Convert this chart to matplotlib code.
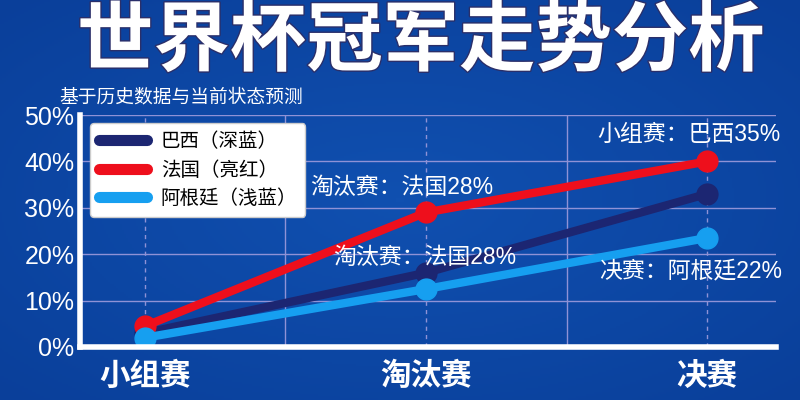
import matplotlib
matplotlib.use("Agg")
import matplotlib.pyplot as plt
import matplotlib.patheffects as pe
import numpy as np

plt.rcParams['font.family'] = ['Noto Sans CJK SC', 'DejaVu Sans']

# ---- data ----
stages = ["小组赛", "淘汰赛", "决赛"]
brazil = [3, 16, 33]
france = [4.5, 29, 40]
argentina = [2, 12.5, 23.5]
series_names = ["巴西（深蓝）", "法国（亮红）", "阿根廷（浅蓝）"]
yticks = [0, 10, 20, 30, 40, 50]
ytick_labels = ["0%", "10%", "20%", "30%", "40%", "50%"]
title = "世界杯冠军走势分析"
subtitle = "基于历史数据与当前状态预测"
notes = ["小组赛：巴西35%", "淘汰赛：法国28%", "淘汰赛：法国28%", "决赛：阿根廷22%"]

BG = "#0d47a5"
C_BR = "#1c2672"
C_FR = "#ee0f1c"
C_AR = "#169ff0"
GRID = "#8f92d6"

fig = plt.figure(figsize=(8, 4), dpi=100, facecolor=BG)

# background gradient
bg = fig.add_axes([0, 0, 1, 1], zorder=-10)
yy, xx = np.mgrid[0:1:200j, 0:1:400j]
r = np.sqrt((xx - 0.5) ** 2 + (yy - 0.5) ** 2)
bg.imshow(r, cmap=matplotlib.colors.LinearSegmentedColormap.from_list(
    "bgc", ["#1050b0", "#0a3f9a"]), aspect="auto", extent=[0, 1, 0, 1])
bg.axis("off")

ax = fig.add_axes([0.1, 0.1325, 0.87, 0.58])
ax.set_facecolor("none")
x = np.arange(len(stages))

lw = 6
ms = 15
ax.plot(x, brazil, color=C_BR, lw=lw, marker="o", ms=ms, solid_capstyle="round", zorder=3, label=series_names[0])
ax.plot(x, france, color=C_FR, lw=lw, marker="o", ms=ms, solid_capstyle="round", zorder=4, label=series_names[1])
ax.plot(x, argentina, color=C_AR, lw=lw, marker="o", ms=ms, solid_capstyle="round", zorder=5, label=series_names[2])

ax.set_xlim(-0.231, 2.245)
ax.set_ylim(0, 50)
ax.set_yticks(yticks)
ax.set_yticklabels(ytick_labels, fontsize=18, color="white", family=["Liberation Sans", "DejaVu Sans"])
ax.set_xticks(x)
ax.set_xticklabels(stages, fontsize=22, fontweight="bold", color="white")
ax.tick_params(length=0, pad=4)
ax.tick_params(axis="x", pad=9)

# grid
for yv in yticks[1:]:
    ax.axhline(yv, color=GRID, lw=1.0, zorder=1)
for xv in [0.5, 1.5]:
    ax.axvline(xv, color=GRID, lw=1.0, zorder=1)
for xv in x:
    ax.axvline(xv, color=GRID, lw=1.0, ls=(0, (3, 3)), zorder=1)

for s in ["top", "right"]:
    ax.spines[s].set_visible(False)
for s in ["left", "bottom"]:
    ax.spines[s].set_color("white")
    ax.spines[s].set_linewidth(4)
    ax.spines[s].set_zorder(6)

leg = ax.legend(loc="upper left", bbox_to_anchor=(0.015, 0.965), fontsize=14,
                frameon=True, fancybox=True, handlelength=2.5, borderpad=0.42,
                labelspacing=0.38, handletextpad=0.7, borderaxespad=0.0)
leg.get_frame().set_facecolor("white")
leg.get_frame().set_alpha(1)
leg.get_frame().set_edgecolor("#cccccc")
for h in leg.get_lines():
    h.set_linewidth(8)
    h.set_marker("")
for t in leg.get_texts():
    t.set_color("black")
    t.set_fontweight("medium")

note_kw = dict(fontsize=16.5, color="white", ha="center", va="center", zorder=7,
               family=["Liberation Sans", "Noto Sans CJK SC"])
ax.text(1.936, 45.9, notes[0], **note_kw)
ax.text(0.915, 34.4, notes[1], **note_kw)
ax.text(0.996, 19.2, notes[2], **note_kw)
ax.text(1.943, 16.5, notes[3], **note_kw)

fig.text(0.526, 0.838, title, fontsize=55, fontweight="black", color="white",
         ha="center", va="baseline",
         path_effects=[pe.withStroke(linewidth=2, foreground="#2a2f6a")])
fig.text(0.074, 0.758, subtitle, fontsize=13.5, color="white", ha="left", va="center",
         fontweight="medium")

fig.savefig("out.png", dpi=100, facecolor=fig.get_facecolor())
